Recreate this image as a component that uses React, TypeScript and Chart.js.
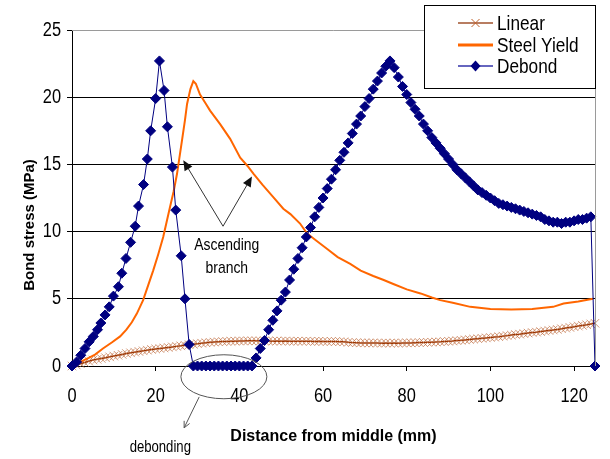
import React, { useEffect, useRef } from "react";
import { Chart, registerables } from "chart.js";

Chart.register(...registerables);

// ---------- data ----------
const seriesLabels = ["Linear", "Steel Yield", "Debond"];
const xTitle = "Distance from middle (mm)";
const yTitle = "Bond stress (MPa)";
const noteLines = ["Ascending", "branch"];
const noteDebond = "debonding";

const xTickValues = [0, 20, 40, 60, 80, 100, 120];
const yTickValues = [0, 5, 10, 15, 20, 25];

const linearX = [
  0, 1, 2, 3, 4, 5, 6, 7, 8, 9, 10, 11, 12, 13, 14, 15, 16, 17, 18, 19, 20, 21, 22, 23, 24, 25,
  26, 27, 28, 29, 30, 31, 32, 33, 34, 35, 36, 37, 38, 39, 40, 41, 42, 43, 44, 45, 46, 47, 48, 49, 50,
  51, 52, 53, 54, 55, 56, 57, 58, 59, 60, 61, 62, 63, 64, 65, 66, 67, 68, 69, 70, 71, 72, 73, 74, 75,
  76, 77, 78, 79, 80, 81, 82, 83, 84, 85, 86, 87, 88, 89, 90, 91, 92, 93, 94, 95, 96, 97, 98, 99, 100,
  101, 102, 103, 104, 105, 106, 107, 108, 109, 110, 111, 112, 113, 114, 115, 116, 117, 118, 119, 120,
  121, 122, 123, 124, 125,
];
const linearY = [
  0, 0.08, 0.17, 0.26, 0.36, 0.45, 0.5, 0.56, 0.62, 0.68, 0.74, 0.8, 0.86, 0.93, 0.98, 1.03, 1.08,
  1.13, 1.18, 1.23, 1.27, 1.3, 1.34, 1.38, 1.42, 1.46, 1.5, 1.54, 1.58, 1.62, 1.66, 1.7, 1.73, 1.76,
  1.78, 1.8, 1.82, 1.83, 1.84, 1.85, 1.86, 1.86, 1.87, 1.87, 1.87, 1.86, 1.87, 1.86, 1.85, 1.86, 1.85,
  1.86, 1.85, 1.84, 1.85, 1.84, 1.85, 1.84, 1.83, 1.84, 1.83, 1.82, 1.83, 1.82, 1.81, 1.8, 1.76, 1.74,
  1.73, 1.72, 1.72, 1.71, 1.72, 1.71, 1.7, 1.71, 1.7, 1.71, 1.7, 1.71, 1.72, 1.72, 1.73, 1.74, 1.75,
  1.76, 1.77, 1.79, 1.8, 1.82, 1.84, 1.86, 1.89, 1.91, 1.94, 1.97, 2.0, 2.03, 2.06, 2.09, 2.12, 2.15,
  2.18, 2.22, 2.26, 2.3, 2.34, 2.37, 2.41, 2.45, 2.49, 2.52, 2.56, 2.6, 2.64, 2.68, 2.72, 2.77, 2.82,
  2.87, 2.92, 2.97, 3.02, 3.07, 3.13, 3.18,
];

const steelX = [
  0, 2, 4, 5.5, 7.4, 9.5, 11.5, 13, 14.3, 15.5, 17, 18.2, 19.4, 20.6, 21.8, 22.6, 23.4, 24.3, 25.1,
  26.3, 27, 27.5, 28.3, 29, 29.6, 30.6, 31.8, 33, 35.4, 37.8, 40.2, 41.9, 43.4, 45.5, 48, 50.5, 52.2,
  54.5, 56.2, 58.5, 61, 63.5, 66.5, 69, 72, 74.5, 76.8, 80, 83.3, 86, 88, 91, 95.2, 100, 105, 110,
  115, 117.5, 121, 124.5,
];
const steelY = [
  0, 0.3, 0.6, 0.85, 1.3, 1.75, 2.2, 2.7, 3.25, 3.9, 4.9, 6.0, 7.1, 8.3, 9.6, 10.7, 11.8, 13.0, 14.3,
  16.8, 18.3, 19.5, 20.6, 21.2, 21.0, 20.2, 19.6, 19.0, 18.0, 16.9, 15.5, 14.9, 14.3, 13.5, 12.6,
  11.7, 11.3, 10.6, 9.85, 9.3, 8.7, 8.1, 7.6, 7.1, 6.7, 6.4, 6.1, 5.7, 5.4, 5.1, 4.9, 4.7, 4.4, 4.25,
  4.2, 4.25, 4.4, 4.65, 4.8, 5.0,
];

const debondX = [
  0, 1.1, 2.1, 3.1, 4.1, 5.1, 6.1, 6.9, 7.9, 8.9, 9.9, 11.1, 11.9, 12.9, 14, 15.1, 15.9, 17.1, 18,
  18.8, 20, 20.9, 22, 22.8, 24, 24.8, 26.1, 27, 28, 29,
  30, 31, 32, 33, 34, 35, 36, 37, 38, 39, 40, 41, 42, 43,
  44, 45, 46, 47, 48, 49, 50, 51, 52, 53, 54, 55, 56, 57, 58, 59, 60, 61, 62, 63, 64, 65, 66, 67,
  68, 69, 70, 71, 72, 73, 74, 75, 76,
  77, 78, 79, 80, 81, 82, 83, 84, 85, 86, 87, 88, 89, 90, 91, 92, 93, 94, 95, 96, 97, 98, 99, 100,
  101, 102, 103, 104, 105, 106, 107, 108, 109, 110, 111, 112, 113, 114, 115, 116, 117, 118, 119, 120,
  121, 122, 123, 124, 125,
];
const debondY = [
  0, 0.3, 0.8, 1.3, 1.8, 2.2, 2.7, 3.2, 3.8, 4.4, 5.2, 5.9, 6.9, 8.0, 9.2, 10.4, 11.9, 13.5, 15.4,
  17.5, 19.9, 22.7, 20.5, 17.8, 14.8, 11.6, 8.2, 5.0, 1.6, 0,
  0, 0, 0, 0, 0, 0, 0, 0, 0, 0, 0, 0, 0, 0,
  0.6, 1.3, 1.9, 2.7, 3.4, 4.1, 4.9, 5.5, 6.4, 7.2, 8.0, 8.8, 9.6, 10.3, 11.1, 11.8, 12.5, 13.2, 13.9,
  14.6, 15.3, 15.9, 16.6, 17.3, 18.0, 18.6, 19.3, 19.9, 20.6, 21.2, 21.8, 22.3, 22.7,
  22.2, 21.5, 20.8, 20.2, 19.6, 19.1, 18.6, 18.0, 17.5, 17.0, 16.6, 16.2, 15.8, 15.4, 15.0, 14.6,
  14.3, 14.0, 13.7, 13.4, 13.1, 12.9, 12.7, 12.5, 12.3, 12.1, 12.0, 11.9, 11.8, 11.7, 11.6, 11.5,
  11.4, 11.3, 11.2, 11.1, 10.9, 10.8, 10.7, 10.7, 10.6, 10.7, 10.7, 10.8, 10.9, 10.9, 11.0, 11.1,
  0,
];

// ---------- styles ----------
const SANS = "'Liberation Sans', Arial, sans-serif";
const NARROW_SX = 0.82; // horizontal squeeze to imitate Arial Narrow
const C_LINEAR = "#993300";
const C_LINEAR_MK = "rgba(190,105,60,0.7)";
const C_STEEL = "#FF6600";
const C_DEBOND = "#000080";

const toPts = (xs: number[], ys: number[]) => xs.map((x, i) => ({ x, y: ys[i] }));

function narrowText(
  ctx: CanvasRenderingContext2D,
  text: string,
  x: number,
  y: number,
  size: number,
  align: CanvasTextAlign
) {
  ctx.save();
  ctx.translate(x, y);
  ctx.scale(NARROW_SX, 1);
  ctx.font = `${size}px ${SANS}`;
  ctx.textAlign = align;
  ctx.textBaseline = "middle";
  ctx.fillText(text, 0, 0);
  ctx.restore();
}

function arrowFilled(ctx: CanvasRenderingContext2D, x0: number, y0: number, x1: number, y1: number) {
  const ang = Math.atan2(y1 - y0, x1 - x0);
  const L = 10, W = 4.5;
  ctx.beginPath();
  ctx.moveTo(x0, y0);
  ctx.lineTo(x1 - Math.cos(ang) * L * 0.8, y1 - Math.sin(ang) * L * 0.8);
  ctx.stroke();
  ctx.beginPath();
  ctx.moveTo(x1, y1);
  ctx.lineTo(x1 - Math.cos(ang) * L - Math.sin(ang) * W, y1 - Math.sin(ang) * L + Math.cos(ang) * W);
  ctx.lineTo(x1 - Math.cos(ang) * L + Math.sin(ang) * W, y1 - Math.sin(ang) * L - Math.cos(ang) * W);
  ctx.closePath();
  ctx.fill();
}

const overlayPlugin = {
  id: "overlay",
  afterDraw(chart: any) {
    const { ctx, chartArea: a, scales } = chart;
    const xs = scales.x, ys = scales.y;
    const px = (v: number) => xs.getPixelForValue(v);
    const py = (v: number) => ys.getPixelForValue(v);
    ctx.save();

    // plot-area border (top / right)
    ctx.strokeStyle = "#9a9a9a";
    ctx.lineWidth = 1;
    ctx.beginPath();
    ctx.moveTo(a.left, Math.round(a.top) + 0.5);
    ctx.lineTo(Math.round(a.right) + 0.5, Math.round(a.top) + 0.5);
    ctx.lineTo(Math.round(a.right) + 0.5, a.bottom);
    ctx.stroke();

    // tick labels (narrow face)
    ctx.fillStyle = "#000";
    xs.ticks.forEach((t: any) => narrowText(ctx, String(t.value), px(t.value), 396, 20, "center"));
    ys.ticks.forEach((t: any) => narrowText(ctx, String(t.value), 61, py(t.value), 20, "right"));

    // axis titles
    ctx.fillStyle = "#000";
    ctx.font = `bold 16px ${SANS}`;
    ctx.textAlign = "center";
    ctx.textBaseline = "middle";
    ctx.fillText(xTitle, (a.left + a.right) / 2, 437);
    ctx.save();
    ctx.translate(30, 225);
    ctx.rotate(-Math.PI / 2);
    ctx.font = `bold 15px ${SANS}`;
    ctx.fillText(yTitle, 0, 0);
    ctx.restore();

    // "Ascending branch" annotation
    ctx.strokeStyle = "#333";
    ctx.fillStyle = "#111";
    ctx.lineWidth = 1;
    const vx = px(36.1), vy = py(10.4);
    arrowFilled(ctx, vx, vy, px(26.6), py(15.3));
    arrowFilled(ctx, vx, vy, px(43), py(14.1));
    ctx.fillStyle = "#000";
    narrowText(ctx, noteLines[0], px(37), py(9.0), 17, "center");
    narrowText(ctx, noteLines[1], px(37), py(7.3), 17, "center");

    // debonding ellipse
    ctx.strokeStyle = "#555";
    ctx.beginPath();
    ctx.ellipse(px(36.3), py(-0.8), 43, 22, 0, 0, Math.PI * 2);
    ctx.stroke();
    const ax0 = px(30.4), ay0 = py(-2.3), ax1 = px(26.8), ay1 = py(-4.6);
    ctx.beginPath();
    ctx.moveTo(ax0, ay0);
    ctx.lineTo(ax1, ay1);
    const ang = Math.atan2(ay1 - ay0, ax1 - ax0);
    ctx.moveTo(ax1, ay1);
    ctx.lineTo(ax1 - Math.cos(ang - 0.45) * 7, ay1 - Math.sin(ang - 0.45) * 7);
    ctx.moveTo(ax1, ay1);
    ctx.lineTo(ax1 - Math.cos(ang + 0.45) * 7, ay1 - Math.sin(ang + 0.45) * 7);
    ctx.stroke();
    ctx.fillStyle = "#000";
    narrowText(ctx, noteDebond, px(21.1), py(-6.1), 16, "center");

    // legend
    const lx = 424.5, ly = 5.5, lw = 171, lh = 83;
    ctx.fillStyle = "#fff";
    ctx.fillRect(lx, ly, lw, lh);
    ctx.strokeStyle = "#000";
    ctx.strokeRect(lx, ly, lw, lh);
    const rows = [23, 45, 66];
    const x0 = 458, x1 = 493, xm = (x0 + x1) / 2;
    ctx.strokeStyle = "#A0522D";
    ctx.lineWidth = 1.5;
    ctx.beginPath(); ctx.moveTo(x0, rows[0]); ctx.lineTo(x1, rows[0]); ctx.stroke();
    ctx.strokeStyle = "#C0602A";
    ctx.lineWidth = 1;
    ctx.beginPath();
    ctx.moveTo(xm - 4, rows[0] - 4); ctx.lineTo(xm + 4, rows[0] + 4);
    ctx.moveTo(xm + 4, rows[0] - 4); ctx.lineTo(xm - 4, rows[0] + 4);
    ctx.stroke();
    ctx.strokeStyle = C_STEEL;
    ctx.lineWidth = 3;
    ctx.beginPath(); ctx.moveTo(x0, rows[1]); ctx.lineTo(x1, rows[1]); ctx.stroke();
    ctx.strokeStyle = "#3333AA";
    ctx.lineWidth = 1.5;
    ctx.beginPath(); ctx.moveTo(x0, rows[2]); ctx.lineTo(x1, rows[2]); ctx.stroke();
    ctx.fillStyle = C_DEBOND;
    ctx.beginPath();
    ctx.moveTo(xm - 5, rows[2]); ctx.lineTo(xm, rows[2] - 5.5); ctx.lineTo(xm + 5, rows[2]); ctx.lineTo(xm, rows[2] + 5.5);
    ctx.closePath(); ctx.fill();
    ctx.fillStyle = "#000";
    seriesLabels.forEach((t, i) => narrowText(ctx, t, 497, rows[i] + 1, 21, "left"));

    ctx.restore();
  },
};

export default function App() {
  const ref = useRef<HTMLCanvasElement | null>(null);
  useEffect(() => {
    if (!ref.current) return;
    const chart = new Chart(ref.current, {
      type: "line",
      data: {
        datasets: [
          {
            label: seriesLabels[0],
            data: toPts(linearX, linearY),
            borderColor: C_LINEAR,
            borderWidth: 1.5,
            pointStyle: "crossRot",
            pointRadius: 6,
            pointBorderColor: C_LINEAR_MK,
            pointBorderWidth: 1,
            order: 3,
            clip: false,
          },
          {
            label: seriesLabels[1],
            data: toPts(steelX, steelY),
            borderColor: C_STEEL,
            borderWidth: 2,
            pointRadius: 0,
            order: 2,
            clip: false,
          },
          {
            label: seriesLabels[2],
            data: toPts(debondX, debondY),
            borderColor: C_DEBOND,
            borderWidth: 1,
            pointStyle: "rectRot",
            pointRadius: 5,
            pointBackgroundColor: C_DEBOND,
            pointBorderColor: C_DEBOND,
            pointBorderWidth: 1,
            order: 1,
            clip: false,
          },
        ],
      },
      options: {
        animation: false,
        responsive: false,
        devicePixelRatio: 1,
        layout: { padding: { left: 0, right: 15, top: 30, bottom: 0 } },
        elements: { line: { tension: 0 } },
        plugins: { legend: { display: false }, tooltip: { enabled: false }, title: { display: false } },
        scales: {
          x: {
            type: "linear",
            min: 0,
            max: 125,
            afterBuildTicks: (s: any) => {
              s.ticks = xTickValues.map((v) => ({ value: v }));
            },
            ticks: { display: false },
            grid: { drawOnChartArea: false, tickColor: "#000", tickLength: 5 },
            border: { color: "#000", width: 1 },
            afterFit: (s: any) => {
              s.height = 93;
            },
          },
          y: {
            type: "linear",
            min: 0,
            max: 25,
            afterBuildTicks: (s: any) => {
              s.ticks = yTickValues.map((v) => ({ value: v }));
            },
            ticks: { display: false },
            grid: {
              color: (c: any) =>
                c.tick && c.tick.value > 0 && c.tick.value < 25 ? "#000" : "rgba(0,0,0,0)",
              tickColor: "#000",
              tickLength: 5,
              lineWidth: 1,
            },
            border: { color: "#000", width: 1 },
            afterFit: (s: any) => {
              s.width = 72;
            },
          },
        },
      },
      plugins: [overlayPlugin],
    });
    return () => chart.destroy();
  }, []);

  return (
    <div style={{ position: "absolute", left: 0, top: 0, width: 610, height: 459, background: "#fff" }}>
      <canvas ref={ref} width={610} height={459} style={{ display: "block" }} />
    </div>
  );
}
